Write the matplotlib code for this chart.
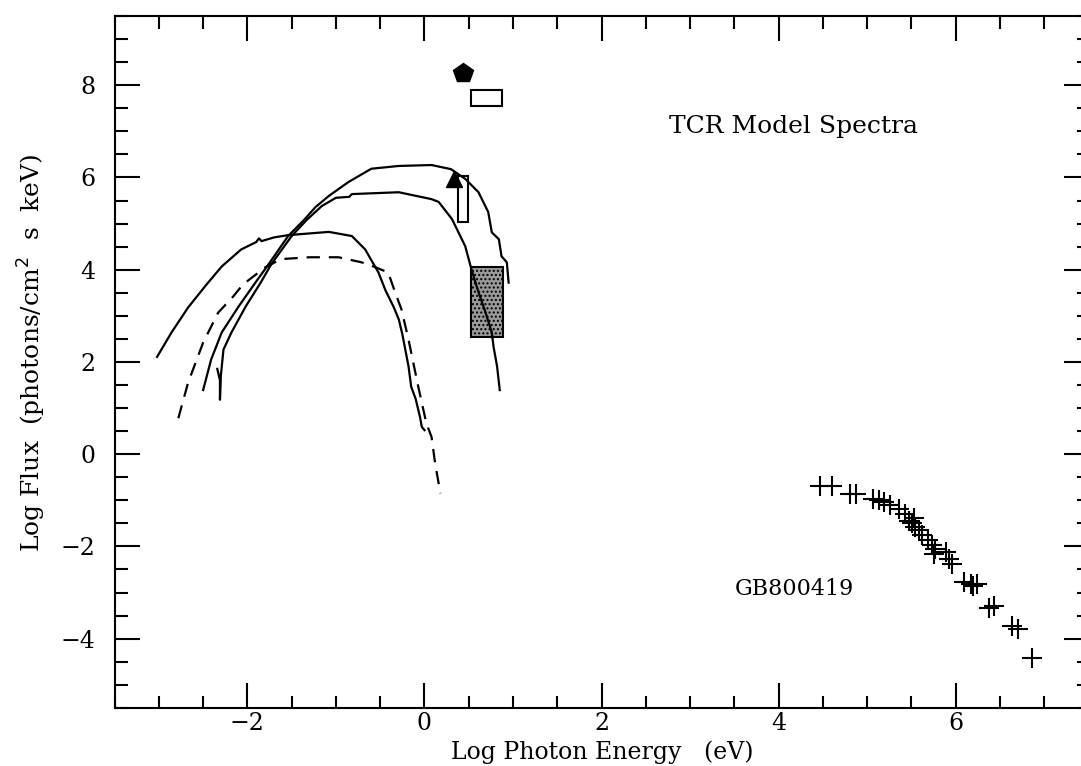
import matplotlib
matplotlib.use("Agg")
import matplotlib.pyplot as plt
from matplotlib.patches import Rectangle
from matplotlib.ticker import MultipleLocator

# model spectra (log E [eV], log flux)
curve_a_x = [-3.02, -2.86, -2.67, -2.47, -2.29, -2.07, -1.9, -1.87, -1.84, -1.7, -1.54, -1.08, -0.82, -0.67, -0.52, -0.44, -0.35, -0.29, -0.25, -0.21, -0.18, -0.15, -0.1, -0.05, -0.03, 0.0]
curve_a_y = [2.11, 2.63, 3.18, 3.66, 4.07, 4.44, 4.6, 4.68, 4.62, 4.7, 4.75, 4.82, 4.73, 4.44, 3.94, 3.55, 3.2, 2.92, 2.6, 2.2, 1.9, 1.46, 1.2, 0.8, 0.59, 0.52]

curve_dash_x = [-2.78, -2.67, -2.5, -2.33, -2.16, -2.05, -1.8, -1.62, -1.3, -0.97, -0.71, -0.55, -0.41, -0.33, -0.26, -0.18, -0.07, 0.02, 0.08, 0.12, 0.18]
curve_dash_y = [0.78, 1.55, 2.42, 3.07, 3.42, 3.68, 4.05, 4.23, 4.27, 4.27, 4.16, 4.05, 3.94, 3.5, 3.14, 2.48, 1.46, 0.68, 0.37, -0.2, -0.85]

# peak ~6.25
curve_b_x = [-2.5, -2.41, -2.29, -2.1, -1.91, -1.76, -1.54, -1.36, -1.23, -1.08, -0.86, -0.6, -0.29, 0.08, 0.3, 0.46, 0.61, 0.72, 0.76, 0.84, 0.87, 0.93, 0.95]
curve_b_y = [1.39, 2.05, 2.64, 3.2, 3.72, 4.12, 4.73, 5.08, 5.36, 5.6, 5.9, 6.19, 6.25, 6.27, 6.18, 5.97, 5.68, 5.25, 4.81, 4.66, 4.29, 4.16, 3.72]

# peak ~5.7
curve_c_x = [-2.34, -2.31, -2.31, -2.3, -2.27, -2.18, -2.02, -1.85, -1.73, -1.5, -1.33, -1.16, -1.0, -0.85, -0.82, -0.29, 0.08, 0.16, 0.31, 0.46, 0.53, 0.61, 0.69, 0.76, 0.78, 0.82, 0.85]
curve_c_y = [1.85, 1.6, 1.18, 1.7, 2.27, 2.64, 3.2, 3.72, 4.12, 4.73, 5.08, 5.38, 5.56, 5.58, 5.64, 5.68, 5.53, 5.47, 5.1, 4.51, 4.01, 3.51, 3.07, 2.64, 2.33, 1.9, 1.39]

# GB800419 data points
grb_x = [4.47, 4.6, 4.81, 4.87, 5.07, 5.13, 5.19, 5.26, 5.36, 5.43, 5.47, 5.51, 5.53, 5.54, 5.58, 5.62, 5.69, 5.73, 5.77, 5.75, 5.89, 5.92, 5.96, 6.09, 6.17, 6.2, 6.24, 6.37, 6.43, 6.63, 6.7, 6.86]
grb_y = [-0.68, -0.7, -0.86, -0.86, -0.97, -1.0, -1.04, -1.11, -1.18, -1.29, -1.44, -1.5, -1.39, -1.58, -1.65, -1.76, -1.87, -1.98, -2.05, -2.16, -2.13, -2.27, -2.38, -2.78, -2.81, -2.85, -2.81, -3.33, -3.29, -3.72, -3.79, -4.42]

# optical / UV limits
pent_x, pent_y = 0.44, 8.26
tri_x, tri_y = 0.33, 5.97
box_top = (0.52, 0.88, 7.56, 7.89)
box_arrow = (0.38, 0.49, 5.03, 6.03)
box_stipple = (0.53, 0.89, 2.55, 4.05)

plt.rcParams['font.family'] = ['DejaVu Serif']

fig = plt.figure(figsize=(10.81, 7.66), dpi=100)
ax = fig.add_axes([0.106, 0.076, 0.901, 0.903])

lw = 1.6
ax.plot(curve_a_x, curve_a_y, color='black', lw=lw)
ax.plot(curve_dash_x, curve_dash_y, color='black', lw=lw, dashes=(6, 4))
ax.plot(curve_b_x, curve_b_y, color='black', lw=lw)
ax.plot(curve_c_x, curve_c_y, color='black', lw=lw)

ax.plot(grb_x, grb_y, ls='none', marker='+', ms=15, mew=1.5, color='black')

ax.plot(pent_x, pent_y, marker='p', ms=15, color='black')
ax.plot(tri_x, tri_y, marker='^', ms=12, color='black')

for x0, x1, y0, y1 in [box_top, box_arrow]:
    ax.add_patch(Rectangle((x0, y0), x1 - x0, y1 - y0, fill=False, ec='black', lw=1.5))
x0, x1, y0, y1 = box_stipple
ax.add_patch(Rectangle((x0, y0), x1 - x0, y1 - y0, fc='#9a9a9a', ec='black', lw=1.5, hatch='....'))

ax.text(2.76, 7.1, 'TCR Model Spectra', fontsize=18, va='center')
ax.text(3.5, -2.92, 'GB800419', fontsize=16, va='center')

ax.set_xlim(-3.5, 7.5)
ax.set_ylim(-5.5, 9.5)
ax.xaxis.set_major_locator(MultipleLocator(2))
ax.xaxis.set_minor_locator(MultipleLocator(0.5))
ax.yaxis.set_major_locator(MultipleLocator(2))
ax.yaxis.set_minor_locator(MultipleLocator(0.5))
ax.tick_params(which='both', direction='in', top=True, right=True, width=1.5, labelsize=17)
ax.tick_params(axis='x', pad=3)
ax.tick_params(axis='y', pad=14)
ax.tick_params(which='major', length=18)
ax.tick_params(which='minor', length=9)
for s in ax.spines.values():
    s.set_linewidth(1.5)

ax.set_xlabel('Log Photon Energy   (eV)', fontsize=17)
ax.xaxis.set_label_coords(0.501, -0.047)
ax.set_ylabel('Log Flux  (photons/cm$^2$  s  keV)', fontsize=18)
ax.yaxis.set_label_coords(-0.068, 0.514)

fig.savefig('out.png', dpi=100)
